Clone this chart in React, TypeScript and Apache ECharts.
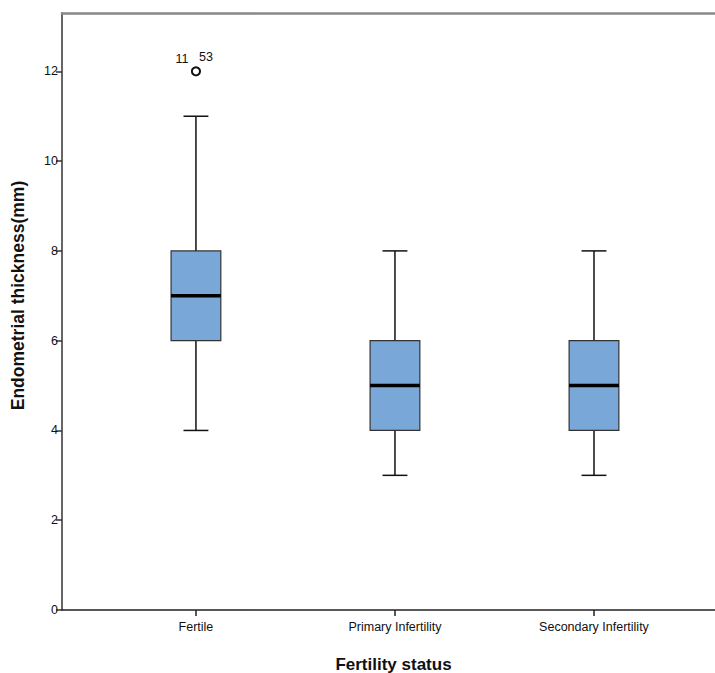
import React, { useEffect, useRef } from "react";
import * as echarts from "echarts";

const categories = ["Fertile", "Primary Infertility", "Secondary Infertility"];
const whiskerLow = [4, 3, 3];
const q1 = [6, 4, 4];
const median = [7, 5, 5];
const q3 = [8, 6, 6];
const whiskerHigh = [11, 8, 8];
const outliers = [
  { cat: 0, value: 12, id: "11" },
  { cat: 0, value: 12, id: "53" },
];
const yTicks = [0, 2, 4, 6, 8, 10, 12];

export default function App() {
  const ref = useRef<HTMLDivElement>(null);
  useEffect(() => {
    if (!ref.current) return;
    const chart = echarts.init(ref.current, null, { renderer: "svg" });
    const boxData = categories.map((_, i) => [
      i,
      whiskerLow[i],
      q1[i],
      median[i],
      q3[i],
      whiskerHigh[i],
    ]);
    const font = "'Liberation Sans', Arial, sans-serif";
    chart.setOption({
      animation: false,
      backgroundColor: "#ffffff",
      grid: { left: 62, right: 0, top: 13, bottom: 63, outerBoundsMode: "none", containLabel: false },
      xAxis: [
        {
          type: "value",
          min: -0.673,
          max: 2.608,
          splitLine: { show: false },
          axisLine: { show: true, onZero: false, lineStyle: { color: "#222", width: 1.5 } },
          axisTick: {
            show: true,
            customValues: [0, 1, 2],
            length: 6,
            lineStyle: { color: "#222", width: 1.5 },
          },
          axisLabel: {
            customValues: [0, 1, 2],
            formatter: (v: number) => categories[Math.round(v)] ?? "",
            color: "#111",
            fontFamily: font,
            fontSize: 12.5,
            margin: 10,
          },
          name: "Fertility status",
          nameLocation: "middle",
          nameGap: 46,
          nameTextStyle: {
            fontFamily: font,
            fontWeight: "bold",
            fontSize: 17,
            color: "#111",
            padding: [0, 0, 0, 10],
          },
        },
        {
          type: "value",
          position: "top",
          min: -0.673,
          max: 2.608,
          splitLine: { show: false },
          axisLine: { show: true, onZero: false, lineStyle: { color: "#888", width: 2.5 } },
          axisTick: { show: false },
          axisLabel: { show: false },
        },
      ],
      yAxis: {
        type: "value",
        min: 0,
        max: 13.3,
        splitLine: { show: false },
        axisLine: { show: true, onZero: false, lineStyle: { color: "#333", width: 1.5 } },
        axisTick: {
          show: true,
          customValues: yTicks,
          length: 6,
          lineStyle: { color: "#333", width: 1.5 },
        },
        axisLabel: {
          customValues: yTicks,
          formatter: (v: number) => String(Math.round(v)),
          color: "#111",
          fontFamily: font,
          fontSize: 12.5,
          margin: 4,
        },
        name: "Endometrial thickness(mm)",
        nameLocation: "middle",
        nameGap: 35,
        nameTextStyle: {
          fontFamily: font,
          fontWeight: "bold",
          fontSize: 17.5,
          color: "#111",
          padding: [0, 0, 0, 32],
        },
      },
      series: [
        {
          type: "custom",
          xAxisIndex: 0,
          encode: { x: 0, y: [1, 2, 3, 4, 5] },
          data: boxData,
          renderItem: (params: any, api: any) => {
            const x = api.value(0);
            const pLo = api.coord([x, api.value(1)]);
            const pQ1 = api.coord([x, api.value(2)]);
            const pMed = api.coord([x, api.value(3)]);
            const pQ3 = api.coord([x, api.value(4)]);
            const pHi = api.coord([x, api.value(5)]);
            const w = api.size([0.25, 0])[0];
            const cw = api.size([0.125, 0])[0];
            const cx = pMed[0];
            const ln = { stroke: "#111", lineWidth: 1.5 };
            return {
              type: "group",
              children: [
                { type: "line", shape: { x1: cx, y1: pHi[1], x2: cx, y2: pQ3[1] }, style: ln },
                { type: "line", shape: { x1: cx, y1: pLo[1], x2: cx, y2: pQ1[1] }, style: ln },
                { type: "line", shape: { x1: cx - cw / 2, y1: pHi[1], x2: cx + cw / 2, y2: pHi[1] }, style: ln },
                { type: "line", shape: { x1: cx - cw / 2, y1: pLo[1], x2: cx + cw / 2, y2: pLo[1] }, style: ln },
                {
                  type: "rect",
                  shape: { x: cx - w / 2, y: pQ3[1], width: w, height: pQ1[1] - pQ3[1] },
                  style: { fill: "#79a7d7", stroke: "#333", lineWidth: 1.2 },
                },
                {
                  type: "line",
                  shape: { x1: cx - w / 2, y1: pMed[1], x2: cx + w / 2, y2: pMed[1] },
                  style: { stroke: "#000", lineWidth: 3.5 },
                },
              ],
            };
          },
          z: 2,
        },
        {
          type: "scatter",
          symbol: "circle",
          symbolSize: 8,
          itemStyle: { color: "#fff", borderColor: "#111", borderWidth: 1.8, opacity: 1 },
          data: outliers.map((o, i) => ({
            value: [o.cat, o.value],
            label: {
              show: true,
              formatter: o.id,
              position: "inside",
              offset: i === 0 ? [-14, -12] : [10, -14],
              color: "#111",
              fontFamily: font,
              fontSize: 12.5,
            },
          })),
          z: 3,
        },
      ],
    });
    return () => chart.dispose();
  }, []);
  return (
    <div
      ref={ref}
      style={{ position: "fixed", left: 0, top: 0, width: 715, height: 673, background: "#fff" }}
    />
  );
}
